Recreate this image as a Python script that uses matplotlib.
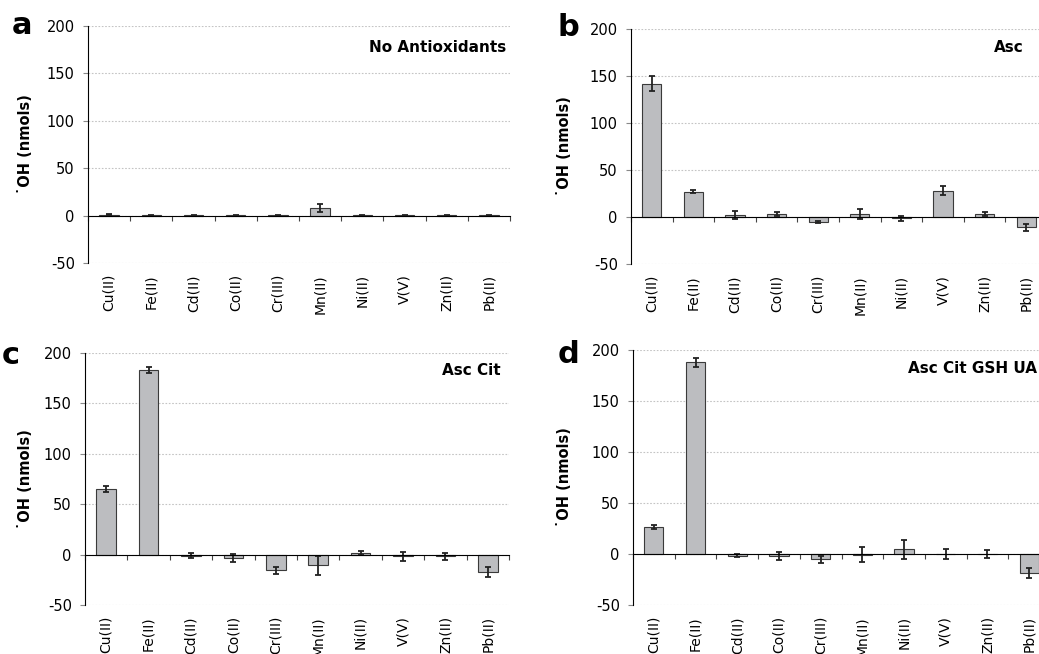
import numpy as np
import matplotlib
matplotlib.use('Agg')
import matplotlib.pyplot as plt

plt.rcParams['font.family'] = ['DejaVu Sans']
plt.rcParams['axes.unicode_minus'] = False

metals = ['Cu(II)', 'Fe(II)', 'Cd(II)', 'Co(II)', 'Cr(III)', 'Mn(II)', 'Ni(II)', 'V(V)', 'Zn(II)', 'Pb(II)']

no_antiox = [1, 0.5, 0.2, 0.5, 0.5, 8, 0.5, 0.5, 0.5, 0.5]
no_antiox_err = [0.5, 0.5, 0.3, 0.5, 0.5, 4, 0.5, 0.5, 0.5, 0.5]

asc = [142, 27, 2, 3, -5.5, 3, -1.5, 28, 3, -11]
asc_err = [8, 1.5, 4, 2, 0.8, 5.5, 3, 4.5, 2, 3.5]

asc_cit = [65.5, 183.5, -1, -3.5, -15.5, -10.5, 1.5, -1.8, -1.8, -17]
asc_cit_err = [3, 3, 2.7, 3.8, 3.3, 9.3, 2, 4.6, 3.8, 5]

asc_cit_gsh_ua = [26.5, 188, -1.5, -2, -5, -0.5, 4.5, 0, 0, -18.5]
asc_cit_gsh_ua_err = [1.5, 4.5, 1.5, 3.8, 3.4, 7.2, 9.5, 4.7, 3.5, 5]

panels = [
    ('a', 'No Antioxidants', no_antiox, no_antiox_err),
    ('b', 'Asc', asc, asc_err),
    ('c', 'Asc Cit', asc_cit, asc_cit_err),
    ('d', 'Asc Cit GSH UA', asc_cit_gsh_ua, asc_cit_gsh_ua_err),
]

W, H = 1039, 654
# axes rects in pixels: left, top, right, bottom
rects = [(88, 26, 510, 263), (631, 29, 1047, 264), (85, 353, 509, 605), (633, 350, 1050, 605)]
letter_pos = [(12, 34), (557, 36), (2, 364), (558, 363)]
ylabel_right = [33, 572, 33, 572]
title_pos = [(0.99, 0.89), (0.945, 0.902), (0.981, 0.913), (0.97, 0.91)]

fig = plt.figure(figsize=(W / 100, H / 100), dpi=100)

x = np.arange(len(metals))
for i, (letter, title, vals, errs) in enumerate(panels):
    l, t, r, b = rects[i]
    ax = fig.add_axes([l / W, 1 - b / H, (r - l) / W, (b - t) / H])
    ax.bar(x, vals, width=0.46, color='#bcbdc0', edgecolor='#3a3a3a', linewidth=0.8, zorder=3)
    ax.errorbar(x, vals, yerr=errs, fmt='none', ecolor='#222222', elinewidth=1.3,
                capsize=2.5, capthick=1.3, zorder=4)
    ax.set_xlim(-0.5, len(metals) - 0.5)
    ax.set_ylim(-50, 200)
    ax.set_yticks(np.arange(-50, 201, 50))
    ax.yaxis.grid(True, linestyle=(0, (1.5, 1.5)), color='#c4c4c4', linewidth=0.8, zorder=0)
    ax.spines['top'].set_visible(False)
    ax.spines['right'].set_visible(False)
    ax.spines['bottom'].set_position(('data', 0))
    ax.spines['bottom'].set_zorder(5)
    ax.set_xticks(np.arange(len(metals) + 1) - 0.5)
    ax.set_xticklabels([])
    ax.tick_params(axis='x', direction='out', length=3.5, width=0.8, color='#444444')
    ax.tick_params(axis='y', direction='out', length=3.5, width=0.8, color='#888888',
                   labelsize=10.5, pad=6)
    for j, m in enumerate(metals):
        ax.annotate(m, xy=(j, 0), xycoords=ax.get_xaxis_transform(), xytext=(0, -8),
                    textcoords='offset points', rotation=90, ha='center', va='top', fontsize=10)
    ax.set_ylabel('\u02d9OH (nmols)', fontsize=10.5, fontweight='bold')
    ax.yaxis.set_label_coords((ylabel_right[i] - l) / (r - l), 0.5)
    ax.text(title_pos[i][0], title_pos[i][1], title, transform=ax.transAxes,
            ha='right', va='baseline', fontsize=11, fontweight='bold')
    fig.text(letter_pos[i][0] / W, 1 - letter_pos[i][1] / H, letter, fontsize=22,
             fontweight='heavy', ha='left', va='baseline')

fig.savefig('out.png', dpi=100)
